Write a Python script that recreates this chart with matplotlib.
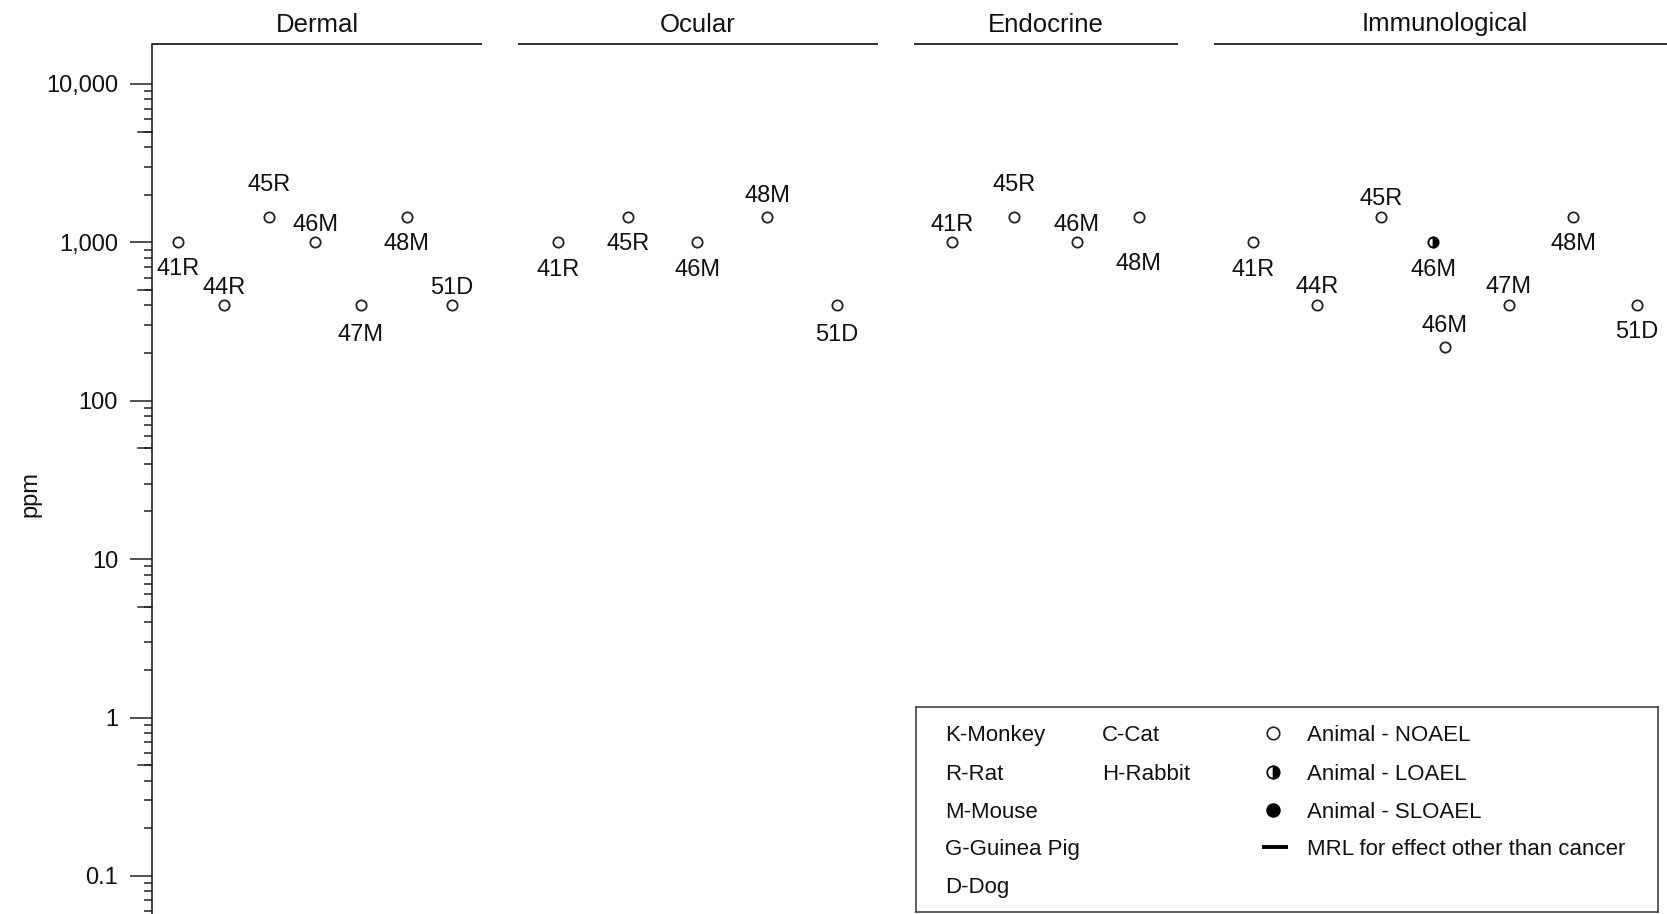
import numpy as np
import matplotlib
matplotlib.use("Agg")
from matplotlib import pyplot as plt
from matplotlib import transforms
from matplotlib.ticker import FixedLocator, LogLocator, NullFormatter

plt.rcParams['font.family'] = ['Liberation Sans', 'DejaVu Sans']

# effect groups and their studies (N = NOAEL, L = LOAEL)
groups = ["Dermal", "Ocular", "Endocrine", "Immunological"]

dermal_labels = ["41R", "44R", "45R", "46M", "47M", "48M", "51D"]
dermal_ppm = [1000, 400, 1450, 1000, 400, 1450, 400]
dermal_effect = ["N", "N", "N", "N", "N", "N", "N"]
dermal_col = [0, 1, 2, 3, 4, 5, 6]

ocular_labels = ["41R", "45R", "46M", "48M", "51D"]
ocular_ppm = [1000, 1450, 1000, 1450, 400]
ocular_effect = ["N", "N", "N", "N", "N"]
ocular_col = [0, 1, 2, 3, 4]

endocrine_labels = ["41R", "45R", "46M", "48M"]
endocrine_ppm = [1000, 1450, 1000, 1450]
endocrine_effect = ["N", "N", "N", "N"]
endocrine_col = [0, 1, 2, 3]

immuno_labels = ["41R", "44R", "45R", "46M", "46M", "47M", "48M", "51D"]
immuno_ppm = [1000, 400, 1450, 1000, 220, 400, 1450, 400]
immuno_effect = ["N", "N", "N", "L", "N", "N", "N", "N"]
immuno_col = [0, 1, 2, 2.82, 3, 4, 5, 6]

ytick_vals = [0.1, 1, 10, 100, 1000, 10000]
ytick_text = ["0.1", "1", "10", "100", "1,000", "10,000"]

species_left = ["K-Monkey", "R-Rat", "M-Mouse", "G-Guinea Pig", "D-Dog"]
species_right = ["C-Cat", "H-Rabbit"]
key_text = ["Animal - NOAEL", "Animal - LOAEL", "Animal - SLOAEL",
            "MRL for effect other than cancer"]

# layout (pixel-like x units): group span, first column, column step, label offsets
spans = [(152, 482), (518, 878), (914, 1178), (1214, 1676)]
first_x = [178, 558, 952, 1253]
step_x = [45.7, 69.7, 62.3, 64.0]
label_dy = [
    [-24, 20, 34, 20, -27, -25, 20],
    [-25, -25, -25, 23, -27],
    [20, 34, 20, -45],
    [-25, 21, 20, -25, 23, 21, -25, -24],
]

data = [
    (dermal_labels, dermal_ppm, dermal_effect, dermal_col),
    (ocular_labels, ocular_ppm, ocular_effect, ocular_col),
    (endocrine_labels, endocrine_ppm, endocrine_effect, endocrine_col),
    (immuno_labels, immuno_ppm, immuno_effect, immuno_col),
]

W, H = 1667, 914
fig = plt.figure(figsize=(W / 100, H / 100), dpi=100)
ax = fig.add_axes([152 / W, 0, (W - 152) / W, (H - 44) / H])
ax.set_yscale("log")
ax.set_xlim(152, W)
ax.set_ylim(0.0575, 17885)

ink = "#222222"
for s in ["top", "right", "bottom"]:
    ax.spines[s].set_visible(False)
ax.spines["left"].set_linewidth(1.2)
ax.spines["left"].set_color(ink)

ax.set_xticks([])
ax.yaxis.set_major_locator(FixedLocator(ytick_vals))
ax.set_yticklabels(ytick_text)
ax.yaxis.set_minor_locator(LogLocator(base=10, subs=np.arange(2, 10)))
ax.yaxis.set_minor_formatter(NullFormatter())
ax.tick_params(axis="y", which="major", direction="out", length=15.8, width=1.1,
               color=ink, labelsize=17, labelcolor="#111111", pad=8.6)
ax.tick_params(axis="y", which="minor", direction="out", length=5.8, width=1.1, color=ink)

# medium ticks at 5 x 10^k
ax_w = W - 152
ytr = transforms.blended_transform_factory(ax.transAxes, ax.transData)
for k in range(-1, 4):
    v = 5 * 10.0 ** k
    ax.plot([-14 / ax_w, 0], [v, v], color=ink, lw=1.1, transform=ytr, clip_on=False)

xtr = transforms.blended_transform_factory(ax.transData, ax.transAxes)
for g, name in enumerate(groups):
    x0, x1 = spans[g]
    ax.plot([x0, x1], [1, 1], color=ink, lw=1.3, transform=xtr, clip_on=False,
            solid_capstyle="butt")
    ax.annotate(name, xy=((x0 + x1) / 2, 1), xycoords=xtr, xytext=(0, 22),
                textcoords="offset pixels", ha="center", va="center_baseline",
                fontsize=18.5, color="#111111", annotation_clip=False)

    labels, ppm, effect, cols = data[g]
    xs = [first_x[g] + c * step_x[g] for c in cols]
    for i in range(len(labels)):
        if effect[i] == "L":
            ax.plot(xs[i], ppm[i], "o", ms=7.4, mew=1.3, mec="black",
                    mfc="black", mfcalt="white", fillstyle="right", zorder=3)
        else:
            ax.plot(xs[i], ppm[i], "o", ms=7.4, mew=1.3, mec=ink, mfc="white", zorder=3)
        ax.annotate(labels[i], xy=(xs[i], ppm[i]), xytext=(0, label_dy[g][i]),
                    textcoords="offset pixels", ha="center", va="center_baseline",
                    fontsize=17, color="#111111")

fig.text(30 / W, 1 - 494 / H, "ppm", rotation=90, ha="center", va="center",
         fontsize=17, color="#111111")

# key box
lax = fig.add_axes([916 / W, (H - 912) / H, (1658 - 916) / W, (912 - 707) / H])
lax.set_xlim(916, 1658)
lax.set_ylim(912, 707)
lax.set_xticks([])
lax.set_yticks([])
for s in lax.spines.values():
    s.set_linewidth(1.1)
    s.set_color("#333333")

rows = [733, 772, 810, 847, 885]
for i, t in enumerate(species_left):
    lax.text(945, rows[i], t, ha="left", va="center_baseline", fontsize=16, color="#111111")
for i, t in enumerate(species_right):
    lax.text(1102, rows[i], t, ha="left", va="center_baseline", fontsize=16, color="#111111")
for i, t in enumerate(key_text):
    lax.text(1307, rows[i], t, ha="left", va="center_baseline", fontsize=16, color="#111111")

lax.plot(1273, rows[0], "o", ms=9.0, mew=1.2, mec=ink, mfc="white")
lax.plot(1273, rows[1], "o", ms=9.0, mew=1.2, mec="black", mfc="black",
         mfcalt="white", fillstyle="right")
lax.plot(1273, rows[2], "o", ms=9.4, mew=1.0, mec="black", mfc="black")
lax.plot([1262, 1288], [rows[3], rows[3]], color="black", lw=2.8, solid_capstyle="butt")

fig.savefig("out.png", dpi=100)
